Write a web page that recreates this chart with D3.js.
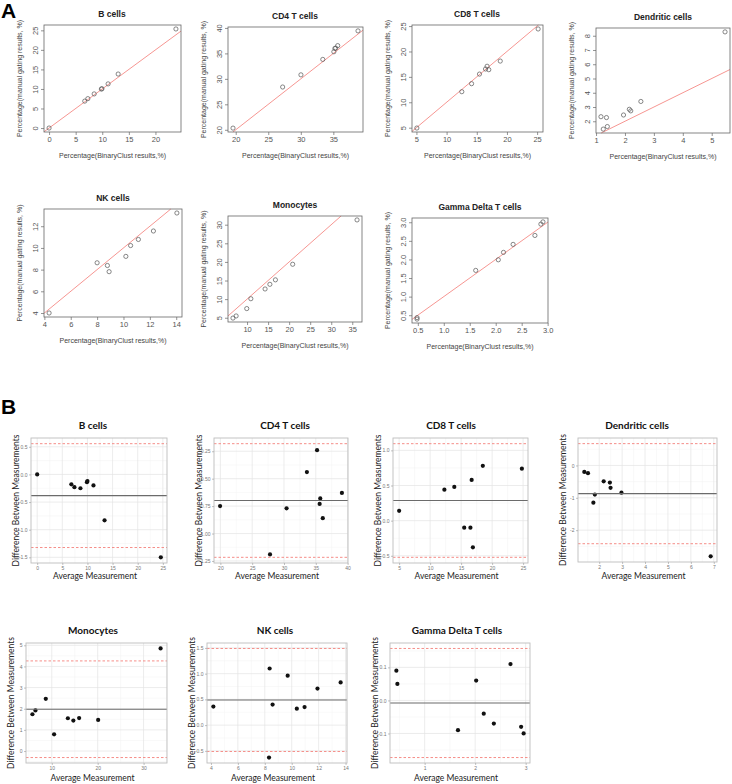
<!DOCTYPE html>
<html>
<head>
<meta charset="utf-8">
<script src="https://cdn.jsdelivr.net/npm/d3@7"></script>
<style>
  body { margin: 0; background: #fff; }
  svg { display: block; }
</style>
</head>
<body>
<div id="chart"></div>
<script>
// BinaryClust vs manual gating percentages, one pair per sample
const bCellsBinary = [0, 6.71, 7.29, 8.48, 9.83, 9.94, 11.10, 12.99, 23.85];
const bCellsManual = [0, 6.89, 7.52, 8.73, 9.97, 10.06, 11.30, 13.82, 25.35];
const cd4Binary = [19.58, 27.21, 30.02, 33.38, 35.08, 35.36, 35.24, 35.67, 38.79];
const cd4Manual = [20.33, 28.40, 30.79, 33.82, 35.32, 36.04, 35.97, 36.53, 39.42];
const cd8Binary = [5.07, 12.52, 14.14, 16.99, 15.45, 16.45, 16.71, 18.89, 25.17];
const cd8Manual = [4.93, 12.08, 13.66, 16.41, 15.55, 16.55, 17.09, 18.11, 24.43];
const dcBinary = [1.25, 1.39, 1.95, 2.20, 2.15, 1.36, 1.17, 2.55, 5.46];
const dcManual = [1.45, 1.63, 2.44, 2.73, 2.84, 2.26, 2.32, 3.39, 8.27];
const nkBinary = [4.36, 8.00, 8.78, 8.91, 10.18, 10.54, 11.13, 12.27, 14.05];
const nkManual = [4.00, 8.63, 8.38, 7.81, 9.22, 10.22, 10.78, 11.56, 13.22];
const monoBinary = [6.65, 7.40, 9.93, 10.90, 14.28, 15.42, 16.74, 20.84, 36.13];
const monoManual = [4.91, 5.48, 7.46, 10.11, 12.73, 13.98, 15.18, 19.37, 31.28];
const gdBinary = [0.485, 0.485, 1.615, 2.05, 2.15, 2.335, 2.755, 2.87, 2.91];
const gdManual = [0.395, 0.435, 1.705, 1.99, 2.19, 2.405, 2.645, 2.95, 3.01];

// tick labels, scatter panels (A)
const aTicksB = {x: [0, 5, 10, 15, 20], y: [0, 5, 10, 15, 20, 25]};
const aTicksCD4 = {x: [20, 25, 30, 35], y: [20, 25, 30, 35, 40]};
const aTicksCD8 = {x: [5, 10, 15, 20, 25], y: [5, 10, 15, 20, 25]};
const aTicksDC = {x: [1, 2, 3, 4, 5], y: [2, 3, 4, 5, 6, 7, 8]};
const aTicksNK = {x: [4, 6, 8, 10, 12, 14], y: [4, 6, 8, 10, 12]};
const aTicksMono = {x: [10, 15, 20, 25, 30, 35], y: [5, 10, 15, 20, 25, 30]};
const aTicksGD = {x: [0.5, 1.0, 1.5, 2.0, 2.5, 3.0], y: [0.5, 1.0, 1.5, 2.0, 2.5, 3.0]};

// tick labels, Bland-Altman panels (B)
const bTicksB = {x: [0, 5, 10, 15, 20, 25], y: [-1.5, -1.0, -0.5, 0.0, 0.5]};
const bTicksCD4 = {x: [20, 25, 30, 35, 40], y: [-1.25, -1.00, -0.75, -0.50, -0.25]};
const bTicksCD8 = {x: [5, 10, 15, 20, 25], y: [-0.5, 0.0, 0.5, 1.0]};
const bTicksDC = {x: [2, 3, 4, 5, 6, 7], y: [-2, -1, 0]};
const bTicksMono = {x: [10, 20, 30], y: [0, 1, 2, 3, 4, 5]};
const bTicksNK = {x: [4, 6, 8, 10, 12, 14], y: [-0.5, 0.0, 0.5, 1.0, 1.5]};
const bTicksGD = {x: [1, 2, 3], y: [-0.1, 0.0, 0.1]};

const scatterPanels = [
  {name: "B cells", binary: bCellsBinary, manual: bCellsManual, ticks: aTicksB},
  {name: "CD4 T cells", binary: cd4Binary, manual: cd4Manual, ticks: aTicksCD4},
  {name: "CD8 T cells", binary: cd8Binary, manual: cd8Manual, ticks: aTicksCD8},
  {name: "Dendritic cells", binary: dcBinary, manual: dcManual, ticks: aTicksDC},
  {name: "NK cells", binary: nkBinary, manual: nkManual, ticks: aTicksNK},
  {name: "Monocytes", binary: monoBinary, manual: monoManual, ticks: aTicksMono},
  {name: "Gamma Delta T cells", binary: gdBinary, manual: gdManual, ticks: aTicksGD}
];
const baPanels = [
  {name: "B cells", binary: bCellsBinary, manual: bCellsManual, ticks: bTicksB},
  {name: "CD4 T cells", binary: cd4Binary, manual: cd4Manual, ticks: bTicksCD4},
  {name: "CD8 T cells", binary: cd8Binary, manual: cd8Manual, ticks: bTicksCD8},
  {name: "Dendritic cells", binary: dcBinary, manual: dcManual, ticks: bTicksDC},
  {name: "Monocytes", binary: monoBinary, manual: monoManual, ticks: bTicksMono},
  {name: "NK cells", binary: nkBinary, manual: nkManual, ticks: bTicksNK},
  {name: "Gamma Delta T cells", binary: gdBinary, manual: gdManual, ticks: bTicksGD}
];

// panel boxes: [left, top, right, bottom, title x, x-label baseline]
const layoutA = [
  [44, 25, 181, 132, 112], [228, 27, 363, 132, 295], [412, 25, 543, 132, 477], [596, 28, 730, 133, 663],
  [44, 209, 182, 317, 113], [228, 216, 362, 322, 295], [412, 218, 548, 323, 480]
];
const layoutB = [
  [31, 438, 167, 563, 93, 579], [214, 438, 348, 563, 285, 579], [393, 438, 528, 563, 451, 579], [578, 438, 717, 562, 637, 579],
  [26, 643, 167, 763, 93, 781], [207, 643, 347, 763, 275, 781], [390, 643, 530, 763, 457, 781]
];

const W = 732, H = 784;
const svg = d3.select("#chart").append("svg").attr("width", W).attr("height", H);

function tickFmt(ticks) {
  let dec = d3.max(ticks, t => {
    const s = String(t);
    return s.includes(".") ? s.split(".")[1].length : 0;
  });
  if (ticks.some(t => !Number.isInteger(t))) dec = Math.max(dec, 1);
  const f = d3.format(`.${dec}f`);
  return d => f(d).replace("\u2212", "-");
}

function drawScatter(p, lay) {
  const [x0, y0, x1, y1, tx] = lay;
  const xe = d3.extent(p.binary), ye = d3.extent(p.manual);
  const xp = (xe[1] - xe[0]) * 0.04, yp = (ye[1] - ye[0]) * 0.04;
  const x = d3.scaleLinear().domain([xe[0] - xp, xe[1] + xp]).range([x0, x1]);
  const y = d3.scaleLinear().domain([ye[0] - yp, ye[1] + yp]).range([y1, y0]);
  const g = svg.append("g").style("font-family", "'Liberation Sans', Arial, sans-serif");

  // identity line
  const t0 = Math.max(x.domain()[0], y.domain()[0]);
  const t1 = Math.min(x.domain()[1], y.domain()[1]);
  g.append("line")
    .attr("x1", x(t0)).attr("y1", y(t0)).attr("x2", x(t1)).attr("y2", y(t1))
    .attr("stroke", "#f58a86").attr("stroke-width", 0.9);

  g.selectAll("circle.pt")
    .data(d3.zip(p.binary, p.manual))
    .join("circle")
    .attr("class", "pt")
    .attr("cx", d => x(d[0])).attr("cy", d => y(d[1]))
    .attr("r", 2.1)
    .attr("fill", "none").attr("stroke", "#555").attr("stroke-width", 0.7);

  g.append("rect")
    .attr("x", x0).attr("y", y0).attr("width", x1 - x0).attr("height", y1 - y0)
    .attr("fill", "none").attr("stroke", "#666").attr("stroke-width", 0.8);

  const xa = g.append("g").attr("transform", `translate(0,${y1})`)
    .call(d3.axisBottom(x).tickValues(p.ticks.x).tickSize(3).tickPadding(2).tickFormat(tickFmt(p.ticks.x)));
  const ya = g.append("g").attr("transform", `translate(${x0},0)`)
    .call(d3.axisLeft(y).tickValues(p.ticks.y).tickSize(3).tickFormat(tickFmt(p.ticks.y)));
  [xa, ya].forEach(a => {
    a.select(".domain").remove();
    a.selectAll("line").attr("stroke", "#666").attr("stroke-width", 0.7);
    a.selectAll("text").attr("fill", "#555").style("font-size", "7.5px").style("font-family", "inherit");
  });
  ya.selectAll("text")
    .attr("x", 0).attr("dy", 0)
    .attr("transform", "translate(-6,0) rotate(-90)")
    .attr("text-anchor", "middle");

  g.append("text")
    .attr("x", tx).attr("y", y0 - 8)
    .attr("text-anchor", "middle")
    .style("font-size", "8.5px").style("font-weight", "bold").attr("fill", "#222")
    .text(p.name);
  g.append("text")
    .attr("x", (x0 + x1) / 2).attr("y", y1 + 26)
    .attr("text-anchor", "middle")
    .style("font-size", "7px").attr("fill", "#444")
    .text("Percentage(BinaryClust results,%)");
  g.append("text")
    .attr("transform", `translate(${x0 - 22},${(y0 + y1) / 2}) rotate(-90)`)
    .attr("text-anchor", "middle")
    .style("font-size", "7px").attr("fill", "#444")
    .text("Percentage(manual gating results, %)");
}

function minorBreaks(ticks, domain) {
  const step = ticks[1] - ticks[0];
  const out = [];
  for (let t = ticks[0] - step / 2; t <= domain[1]; t += step) {
    if (t >= domain[0]) out.push(t);
  }
  return out;
}

function drawBA(p, lay) {
  const [x0, y0, x1, y1, tx, lx] = lay;
  const avg = p.binary.map((b, i) => (b + p.manual[i]) / 2);
  const diff = p.binary.map((b, i) => b - p.manual[i]);
  const mean = d3.mean(diff), sd = d3.deviation(diff);
  const lo = mean - 1.96 * sd, hi = mean + 1.96 * sd;

  const xe = d3.extent(avg), ye = d3.extent(diff.concat([lo, hi]));
  const xp = (xe[1] - xe[0]) * 0.05, yp = (ye[1] - ye[0]) * 0.05;
  const x = d3.scaleLinear().domain([xe[0] - xp, xe[1] + xp]).range([x0, x1]);
  const y = d3.scaleLinear().domain([ye[0] - yp, ye[1] + yp]).range([y1, y0]);
  const g = svg.append("g").style("font-family", "Lato, 'Open Sans', sans-serif");

  // grid
  const grid = g.append("g");
  minorBreaks(p.ticks.x, x.domain()).forEach(t => grid.append("line")
    .attr("x1", x(t)).attr("x2", x(t)).attr("y1", y0).attr("y2", y1)
    .attr("stroke", "#f2f2f2").attr("stroke-width", 0.5));
  minorBreaks(p.ticks.y, y.domain()).forEach(t => grid.append("line")
    .attr("x1", x0).attr("x2", x1).attr("y1", y(t)).attr("y2", y(t))
    .attr("stroke", "#f2f2f2").attr("stroke-width", 0.5));
  p.ticks.x.forEach(t => grid.append("line")
    .attr("x1", x(t)).attr("x2", x(t)).attr("y1", y0).attr("y2", y1)
    .attr("stroke", "#e4e4e4").attr("stroke-width", 0.7));
  p.ticks.y.forEach(t => grid.append("line")
    .attr("x1", x0).attr("x2", x1).attr("y1", y(t)).attr("y2", y(t))
    .attr("stroke", "#e4e4e4").attr("stroke-width", 0.7));

  g.selectAll("circle.pt")
    .data(d3.zip(avg, diff))
    .join("circle")
    .attr("class", "pt")
    .attr("cx", d => x(d[0])).attr("cy", d => y(d[1]))
    .attr("r", 2.1).attr("fill", "#111");

  g.append("line").attr("x1", x0).attr("x2", x1).attr("y1", y(mean)).attr("y2", y(mean))
    .attr("stroke", "#6b6b6b").attr("stroke-width", 1.1);
  [lo, hi].forEach(v => g.append("line")
    .attr("x1", x0).attr("x2", x1).attr("y1", y(v)).attr("y2", y(v))
    .attr("stroke", "#f4807a").attr("stroke-width", 0.9).attr("stroke-dasharray", "2.5,2"));

  g.append("rect")
    .attr("x", x0).attr("y", y0).attr("width", x1 - x0).attr("height", y1 - y0)
    .attr("fill", "none").attr("stroke", "#bdbdbd").attr("stroke-width", 0.9);

  const xa = g.append("g").attr("transform", `translate(0,${y1})`)
    .call(d3.axisBottom(x).tickValues(p.ticks.x).tickSize(2).tickPadding(1.5).tickFormat(tickFmt(p.ticks.x)));
  const ya = g.append("g").attr("transform", `translate(${x0},0)`)
    .call(d3.axisLeft(y).tickValues(p.ticks.y).tickSize(2).tickPadding(1.5).tickFormat(tickFmt(p.ticks.y)));
  [xa, ya].forEach(a => {
    a.select(".domain").remove();
    a.selectAll("line").attr("stroke", "#999").attr("stroke-width", 0.6);
    a.selectAll("text").attr("fill", "#777").style("font-size", "5px").style("font-family", "inherit");
  });

  g.append("text")
    .attr("x", tx).attr("y", y0 - 9)
    .attr("text-anchor", "middle")
    .style("font-size", "10px").style("font-weight", "bold").attr("fill", "#111")
    .text(p.name);
  g.append("text")
    .attr("x", (x0 + x1) / 2 - 4).attr("y", lx)
    .attr("text-anchor", "middle")
    .style("font-size", "8.5px").attr("fill", "#222")
    .text("Average Measurement");
  g.append("text")
    .attr("transform", `translate(${x0 - 12},${(y0 + y1) / 2}) rotate(-90)`)
    .attr("text-anchor", "middle")
    .style("font-size", "8.5px").attr("fill", "#222")
    .text("Difference Between Measurements");
}

scatterPanels.forEach((p, i) => drawScatter(p, layoutA[i]));
baPanels.forEach((p, i) => drawBA(p, layoutB[i]));

svg.append("text").attr("x", 1).attr("y", 18)
  .style("font-family", "'Liberation Sans', Arial, sans-serif")
  .style("font-size", "21px").style("font-weight", "bold").text("A");
svg.append("text").attr("x", 1).attr("y", 414)
  .style("font-family", "'Liberation Sans', Arial, sans-serif")
  .style("font-size", "21px").style("font-weight", "bold").text("B");
</script>
</body>
</html>
